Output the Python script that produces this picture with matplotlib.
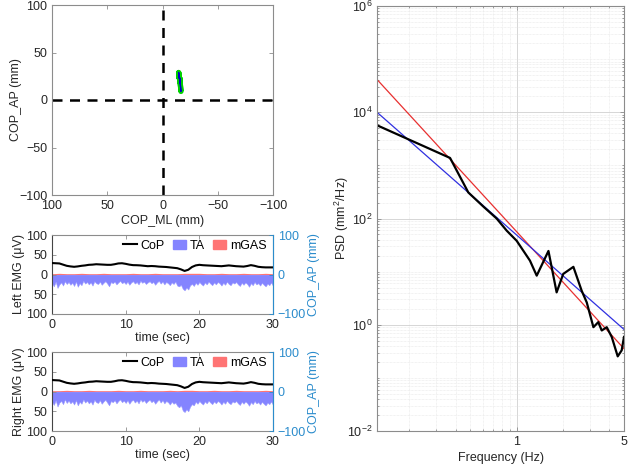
import numpy as np
import matplotlib
matplotlib.use("Agg")
import matplotlib.pyplot as plt
from matplotlib.lines import Line2D
from matplotlib.patches import Patch
from matplotlib.ticker import FixedLocator, NullFormatter

plt.rcParams['font.family'] = ['Liberation Sans', 'DejaVu Sans']
plt.rcParams['mathtext.fontset'] = 'custom'
plt.rcParams['mathtext.rm'] = 'Liberation Sans'
plt.rcParams['mathtext.it'] = 'Liberation Sans:italic'
plt.rcParams['font.size'] = 9

# ---------------- data ----------------
cop_t = np.arange(61) * 0.5
cop_ap = [29, 28.5, 28, 25, 22, 20.5, 19.5, 20.5, 22, 23,
          24.5, 25, 26, 25.5, 25, 24.5, 24.5, 26, 28, 28.5,
          27, 25, 23.7, 23.5, 23, 22, 21, 21.5, 21, 20,
          19.5, 19, 18, 17, 16, 13, 9, 12, 19, 23,
          24.5, 23.5, 23, 22.5, 22, 21.5, 21, 22, 23, 22,
          21, 20.5, 20, 21.5, 23.7, 22, 19.5, 18.5, 18, 18,
          18]
cop_ml = [-14.6, -14.9, -14.7, -15.2, -15.6, -15.9, -16.0, -15.7, -15.4, -15.1,
          -15.0, -14.9, -14.8, -14.9, -15.1, -15.2, -15.3, -15.0, -14.7, -14.6,
          -14.8, -15.1, -15.3, -15.4, -15.4, -15.6, -15.7, -15.6, -15.7, -15.8,
          -15.9, -15.9, -16.0, -16.1, -16.2, -16.4, -16.7, -16.5, -15.9, -15.4,
          -15.2, -15.3, -15.4, -15.5, -15.5, -15.6, -15.7, -15.6, -15.4, -15.5,
          -15.7, -15.8, -15.9, -15.7, -15.3, -15.5, -15.9, -16.0, -16.1, -16.1,
          -16.1]

emg_t = np.arange(121) * 0.25
left_ta = [22, 30, 18, 34, 25,
           20, 28, 17, 24, 19, 26, 21, 29, 18, 31, 22, 27,
           16, 23, 19, 25, 20, 28, 17, 22, 24, 18, 26, 21,
           17, 23, 30, 19, 22, 18, 25, 20, 16, 22, 19, 24,
           18, 26, 20, 17, 23, 19, 25, 16, 21, 18, 24, 20,
           17, 22, 19, 26, 20, 16, 23, 18, 25, 19, 22, 27,
           20, 24, 18, 28, 30, 26, 36, 40, 33, 38, 27, 24,
           29, 21, 26, 19, 24, 28, 20, 25, 18, 23, 27, 20,
           25, 19, 22, 28, 21, 26, 18, 24, 27, 20, 23, 19,
           25, 29, 21, 26, 20, 24, 31, 22, 27, 19, 25, 22,
           28, 21, 26, 30, 23, 27, 20, 29]
right_ta = [26, 34, 22, 38, 28,
            24, 32, 20, 29, 23, 30, 25, 33, 22, 35, 26, 31,
            20, 28, 23, 30, 25, 33, 21, 27, 29, 22, 31, 25,
            21, 28, 35, 24, 27, 22, 30, 24, 20, 27, 23, 29,
            22, 31, 24, 21, 28, 23, 30, 20, 26, 22, 29, 24,
            21, 27, 23, 31, 25, 20, 28, 22, 30, 24, 27, 33,
            26, 31, 28, 36, 40, 35, 48, 52, 45, 50, 38, 32,
            35, 26, 31, 24, 29, 33, 25, 30, 23, 28, 32, 25,
            30, 24, 27, 33, 26, 31, 23, 29, 32, 25, 28, 24,
            30, 34, 26, 31, 25, 29, 36, 27, 32, 24, 30, 27,
            33, 26, 31, 35, 28, 32, 25, 34]
gas_t = np.arange(31) * 1.0
left_gas = [2, 3, 2, 2, 3, 2, 2, 3, 2, 2, 2, 3, 2, 2, 3, 2,
            2, 2, 3, 3, 3, 2, 2, 3, 2, 2, 3, 2, 2, 3, 2]
right_gas = [2, 2, 3, 2, 2, 3, 2, 2, 2, 3, 2, 2, 3, 2, 2, 2,
             3, 2, 3, 3, 2, 2, 3, 2, 2, 3, 2, 2, 2, 3, 2]

psd_f = [0.123, 0.368, 0.484, 0.606, 0.74, 0.861, 1.0, 1.22, 1.35, 1.61,
         1.82, 2.01, 2.34, 2.65, 2.86, 3.16, 3.40, 3.58, 3.86, 4.16,
         4.55, 4.83, 5.0]
psd_v = [5690, 1380, 309, 168, 100, 59, 38, 16.1, 8.4, 24.5,
         4.07, 9.06, 12.3, 4.37, 2.63, 0.90, 1.12, 0.78, 0.90, 0.59,
         0.254, 0.33, 0.59]
fit_f = [0.123, 5.0]
fit_red = [41400, 0.355]
fit_blue = [10000, 0.817]

# ---------------- style ----------------
SPINE = '#8c8c8c'
TXT = '#262626'
RBLUE = '#2b8ccc'
TA_C = '#8484ff'
GAS_C = '#ff7474'

W, H = 632, 471
fig = plt.figure(figsize=(W / 100, H / 100), dpi=100)


def rect(l, t, r, b):
    return [l / W, 1 - b / H, (r - l) / W, (b - t) / H]


def style(ax):
    for s in ax.spines.values():
        s.set_color(SPINE)
        s.set_linewidth(0.8)
    ax.tick_params(direction='in', length=3, width=0.6, colors=SPINE,
                   labelcolor=TXT, labelsize=9, top=True, right=True)


# ---- COP scatter ----
ax1 = fig.add_axes(rect(52, 5, 273, 195))
style(ax1)
ax1.axvline(0, color='k', lw=1.8, ls=(0, (4, 3)))
ax1.axhline(0, color='k', lw=1.8, ls=(0, (4, 3)))
ax1.plot(cop_ml, cop_ap, color='#00d000', lw=3.8, solid_capstyle='round',
         solid_joinstyle='round')
ax1.plot(cop_ml, cop_ap, color='#0000c8', lw=0.9)
ax1.set_xlim(100, -100)
ax1.set_ylim(-100, 100)
ax1.set_xticks([100, 50, 0, -50, -100])
ax1.set_yticks([-100, -50, 0, 50, 100])
ax1.set_xlabel('COP_ML (mm)', color=TXT, labelpad=2)
ax1.set_ylabel('COP_AP (mm)', color=TXT, labelpad=-2)


def emg_panel(box, ta, gas, label):
    ax = fig.add_axes(box)
    style(ax)
    ax.tick_params(right=False)
    ax.fill_between(emg_t, 0, -np.array(ta), color=TA_C, lw=0.4,
                    edgecolor='#9a9aff')
    ax.fill_between(gas_t, 0, gas, color=GAS_C, lw=0)
    ax.set_xlim(0, 30)
    ax.set_ylim(-100, 100)
    ax.set_xticks([0, 10, 20, 30])
    ax.set_yticks([100, 50, 0, -50, -100])
    ax.set_yticklabels(['100', '50', '0', '50', '100'])
    ax.set_xlabel('time (sec)', color=TXT, labelpad=1)
    ax.set_ylabel(label, color=TXT, labelpad=1)
    ax.spines['left'].set_color('#444444')
    axr = ax.twinx()
    for s in axr.spines.values():
        s.set_visible(False)
    axr.spines['right'].set_visible(True)
    axr.spines['right'].set_color(RBLUE)
    axr.plot(cop_t, cop_ap, color='k', lw=1.5)
    axr.set_ylim(-100, 100)
    axr.set_yticks([-100, 0, 100])
    axr.tick_params(direction='in', length=3, width=0.6, colors=RBLUE,
                    labelcolor=RBLUE, labelsize=9)
    axr.set_ylabel('COP_AP (mm)', color=RBLUE, labelpad=1)
    handles = [Line2D([], [], color='k', lw=1.5),
               Patch(color=TA_C), Patch(color=GAS_C)]
    axr.legend(handles, ['CoP', 'TA', 'mGAS'], loc='upper right', ncol=3,
               frameon=False, fontsize=9, handlelength=1.1, handletextpad=0.3,
               columnspacing=0.6, borderaxespad=0.1,
               bbox_to_anchor=(1.0, 1.02))
    return ax


emg_panel(rect(52, 235, 273, 314), left_ta, left_gas, 'Left EMG (μV)')
emg_panel(rect(52, 352, 273, 431), right_ta, right_gas, 'Right EMG (μV)')

# ---- PSD ----
ax4 = fig.add_axes(rect(377, 6, 624, 431))
style(ax4)
ax4.set_xscale('log')
ax4.set_yscale('log')
ax4.plot(fit_f, fit_red, color='#e83030', lw=0.9)
ax4.plot(fit_f, fit_blue, color='#3030e0', lw=0.9)
ax4.plot(psd_f, psd_v, color='k', lw=1.6)
ax4.set_xlim(0.123, 5)
ax4.set_ylim(1e-2, 1e6)
ax4.xaxis.set_major_locator(FixedLocator([1, 5]))
ax4.set_xticklabels(['1', '5'])
ax4.xaxis.set_minor_locator(FixedLocator([0.2, 0.3, 0.4, 0.5, 0.6, 0.7, 0.8, 0.9, 2, 3, 4]))
ax4.xaxis.set_minor_formatter(NullFormatter())
ax4.yaxis.set_major_locator(FixedLocator([1e-2, 1e0, 1e2, 1e4, 1e6]))
ax4.set_yticklabels([r'$10^{-2}$', r'$10^{0}$', r'$10^{2}$', r'$10^{4}$', r'$10^{6}$'])
yminor = [m * 10.0 ** e for e in range(-2, 6) for m in range(2, 11)]
ax4.yaxis.set_minor_locator(FixedLocator(yminor))
ax4.yaxis.set_minor_formatter(NullFormatter())
ax4.tick_params(which='minor', direction='in', length=1.5, colors=SPINE,
                top=True, right=True)
ax4.grid(True, which='major', color='#d0d0d0', lw=0.6)
ax4.grid(True, which='minor', color='#e6e6e6', lw=0.5, ls=(0, (1, 1)))
ax4.set_axisbelow(True)
ax4.set_xlabel('Frequency (Hz)', color=TXT, labelpad=3)
ax4.set_ylabel(r'PSD (mm$^2$/Hz)', color=TXT, labelpad=-3)

fig.savefig('out.png', dpi=100)
